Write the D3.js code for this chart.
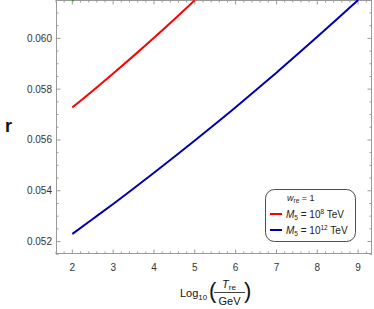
<!DOCTYPE html>
<html>
<head>
<meta charset="utf-8">
<script src="https://cdn.jsdelivr.net/npm/d3@7"></script>
<style>
  body { margin: 0; background: #fff; }
  svg { display: block; font-family: 'Liberation Sans', Arial, sans-serif; }
</style>
</head>
<body>
<svg id="chart" width="374" height="309"></svg>
<script>
// values
const logT = [2, 2.5, 3, 3.5, 4, 4.5, 5, 5.5, 6, 6.5, 7, 7.5, 8, 8.5, 9];
const rRed = [0.05728, 0.05794, 0.05862, 0.05931, 0.06002, 0.06075, 0.06150];
const rBlue = [0.05230, 0.05289, 0.05348, 0.05409, 0.05471, 0.05534, 0.05598, 0.05663,
  0.05729, 0.05797, 0.05865, 0.05935, 0.06006, 0.06078, 0.06151];
const rGreen = [0.06147, 0.06230];
const xTicks = [2, 3, 4, 5, 6, 7, 8, 9];
const yTicks = [0.052, 0.054, 0.056, 0.058, 0.060];

const series = [
  { vals: rGreen, color: '#3a9a2a' },
  { vals: rRed, color: '#ff0000' },
  { vals: rBlue, color: '#0000b0' }
];

const svg = d3.select('#chart');
const pLeft = 56, pRight = 372, pTop = 0, pBottom = 254;

const x = d3.scaleLinear().domain([1.6, 9.34]).range([pLeft, pRight]);
const y = d3.scaleLinear().domain([0.05151, 0.06151]).range([pBottom, pTop]);

const frame = '#9a9a9a';

svg.append('clipPath').attr('id', 'clip')
  .append('rect')
  .attr('x', pLeft).attr('y', pTop)
  .attr('width', pRight - pLeft).attr('height', pBottom - pTop);

// minor ticks
const xMinor = d3.range(1.6, 9.35, 0.2).filter(v => Math.abs(v - Math.round(v)) > 0.01);
const yMinor = d3.range(0.0515, 0.0616, 0.0005).filter(v => Math.abs(v / 0.002 - Math.round(v / 0.002)) > 0.01);

const ticks = svg.append('g').attr('stroke', frame).attr('stroke-width', 1);

function xt(v, len) {
  ticks.append('line').attr('x1', x(v)).attr('x2', x(v)).attr('y1', pBottom).attr('y2', pBottom - len);
  ticks.append('line').attr('x1', x(v)).attr('x2', x(v)).attr('y1', pTop).attr('y2', pTop + len);
}
function yt(v, len) {
  ticks.append('line').attr('y1', y(v)).attr('y2', y(v)).attr('x1', pLeft).attr('x2', pLeft + len);
  ticks.append('line').attr('y1', y(v)).attr('y2', y(v)).attr('x1', pRight).attr('x2', pRight - len);
}
xTicks.forEach(v => xt(v, 4.5));
xMinor.forEach(v => xt(v, 2.5));
yTicks.forEach(v => yt(v, 4.5));
yMinor.forEach(v => yt(v, 2.5));

svg.append('rect')
  .attr('x', pLeft + 0.5).attr('y', pTop + 0.5)
  .attr('width', pRight - pLeft - 1).attr('height', pBottom - pTop - 1)
  .attr('fill', 'none').attr('stroke', frame);

// tick labels
svg.append('g').selectAll('text').data(xTicks).join('text')
  .attr('x', d => x(d)).attr('y', pBottom + 17)
  .attr('text-anchor', 'middle').attr('font-size', 10).attr('fill', '#333')
  .text(d => d);

svg.append('g').selectAll('text').data(yTicks).join('text')
  .attr('x', pLeft - 4).attr('y', d => y(d) + 3.5)
  .attr('text-anchor', 'end').attr('font-size', 10).attr('fill', '#333')
  .text(d => d3.format('.3f')(d));

// curves
const line = d3.line().curve(d3.curveNatural);
const g = svg.append('g').attr('clip-path', 'url(#clip)');
series.forEach(s => {
  g.append('path')
    .attr('d', line(s.vals.map((v, i) => [x(logT[i]), y(v)])))
    .attr('fill', 'none').attr('stroke', s.color).attr('stroke-width', 2);
});

// axis labels
svg.append('text').attr('x', 5).attr('y', 132)
  .attr('font-size', 18).attr('font-weight', 'bold').attr('fill', '#111').text('r');

const xl = svg.append('g').attr('fill', '#111');
const lt = xl.append('text').attr('x', 180).attr('y', 297).attr('font-size', 11);
lt.append('tspan').text('Log');
lt.append('tspan').attr('font-size', 8).attr('dy', 3).text('10');
xl.append('text').attr('x', 209).attr('y', 298).attr('font-size', 22)
  .attr('font-weight', 300).text('(');
xl.append('text').attr('x', 244).attr('y', 298).attr('font-size', 22)
  .attr('font-weight', 300).text(')');
const tt = xl.append('text').attr('x', 229).attr('y', 288).attr('font-size', 11).attr('text-anchor', 'middle');
tt.append('tspan').attr('font-style', 'italic').text('T');
tt.append('tspan').attr('font-size', 8).attr('dy', 2).text('re');
xl.append('line').attr('x1', 214).attr('x2', 245).attr('y1', 292.5).attr('y2', 292.5)
  .attr('stroke', '#111').attr('stroke-width', 0.8);
xl.append('text').attr('x', 229.5).attr('y', 305).attr('font-size', 11)
  .attr('text-anchor', 'middle').text('GeV');

// legend
const lg = svg.append('g');
lg.append('rect').attr('x', 265.5).attr('y', 189.5).attr('width', 90).attr('height', 52)
  .attr('rx', 9).attr('fill', '#fff').attr('stroke', '#222').attr('stroke-width', 0.8);

const leg = [
  { color: null, main: 'w', sub: 're', rest: ' = 1', y: 201, fs: 9 },
  { color: '#ff0000', main: 'M', sub: '5', rest: ' = 10', sup: '8', tail: ' TeV', y: 217.5, fs: 10 },
  { color: '#0000b0', main: 'M', sub: '5', rest: ' = 10', sup: '12', tail: ' TeV', y: 233.5, fs: 10 }
];
leg.forEach(d => {
  if (d.color) {
    lg.append('line').attr('x1', 270).attr('x2', 282).attr('y1', d.y - 3.5).attr('y2', d.y - 3.5)
      .attr('stroke', d.color).attr('stroke-width', 2);
  }
  const t = lg.append('text').attr('x', d.color ? 286 : 287).attr('y', d.y)
    .attr('font-size', d.fs).attr('fill', '#222');
  t.append('tspan').attr('font-style', 'italic').text(d.main);
  t.append('tspan').attr('font-size', 6.5).attr('dy', 2).text(d.sub);
  t.append('tspan').attr('dy', -2).text(d.rest);
  if (d.sup) {
    t.append('tspan').attr('font-size', 6.5).attr('dy', -4).text(d.sup);
    t.append('tspan').attr('dy', 4).text(d.tail);
  }
});
</script>
</body>
</html>
